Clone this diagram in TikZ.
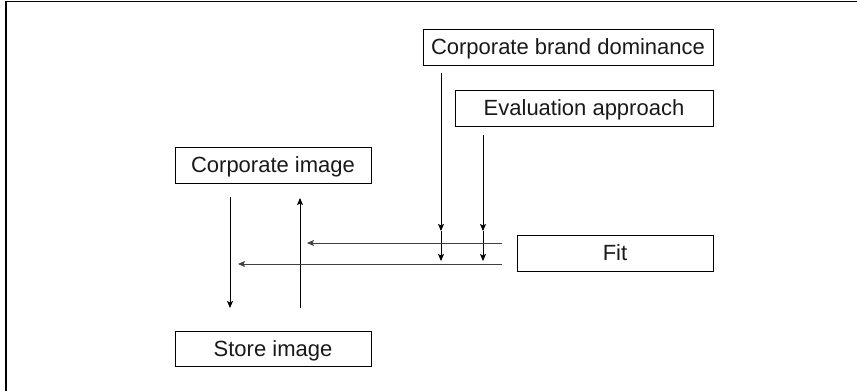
\documentclass[tikz,border=0pt]{standalone}
\usepackage{fontspec}
\setmainfont{Liberation Sans}
\usetikzlibrary{arrows.meta}
\begin{document}
\begin{tikzpicture}[x=1pt,y=-1pt,
  box/.style={draw, line width=0.9pt, inner sep=0pt, minimum height=36pt, font=\fontsize{22}{25}\selectfont, text=black!90, text depth=0pt},
  arr/.style={line width=0.9pt, -{Stealth[length=7pt,width=6pt,inset=1.5pt]}},
  ln/.style={line width=0.9pt}]
\useasboundingbox (0,0) rectangle (857,391);
\draw[line width=1.2pt] (6,391) -- (6,1.5) -- (857,1.5);
\node[box, minimum width=290pt] (cbd) at (568,47) {Corporate brand dominance};
\node[box, minimum width=258pt] (eva) at (584,108) {Evaluation approach};
\node[box, minimum width=196pt] (ci) at (273,165) {Corporate image};
\node[box, minimum width=196pt] (fit) at (615,253) {Fit};
\node[box, minimum width=196pt, minimum height=35pt] (si) at (273,348.5) {Store image};
% coordinates
\coordinate (a1) at (230,197); \coordinate (a2) at (230,308);
\coordinate (b1) at (300,308); \coordinate (b2) at (300,198);
\coordinate (c1) at (441,73); \coordinate (c2) at (441,231); \coordinate (c3) at (441,261);
\coordinate (d1) at (483,135); \coordinate (d2) at (483,231); \coordinate (d3) at (483,261);
\coordinate (e1) at (502,243); \coordinate (e2) at (307,243);
\coordinate (f1) at (502,264); \coordinate (f2) at (238,264);
\draw[arr] (a1) -- (a2);
\draw[arr] (b1) -- (b2);
\draw[arr] (c1) -- (c2);
\draw[arr] (c2) -- (c3);
\draw[arr] (d1) -- (d2);
\draw[arr] (d2) -- (d3);
\draw[arr, draw=black!75] (e1) -- (e2);
\draw[arr, draw=black!75] (f1) -- (f2);
\end{tikzpicture}
\end{document}
